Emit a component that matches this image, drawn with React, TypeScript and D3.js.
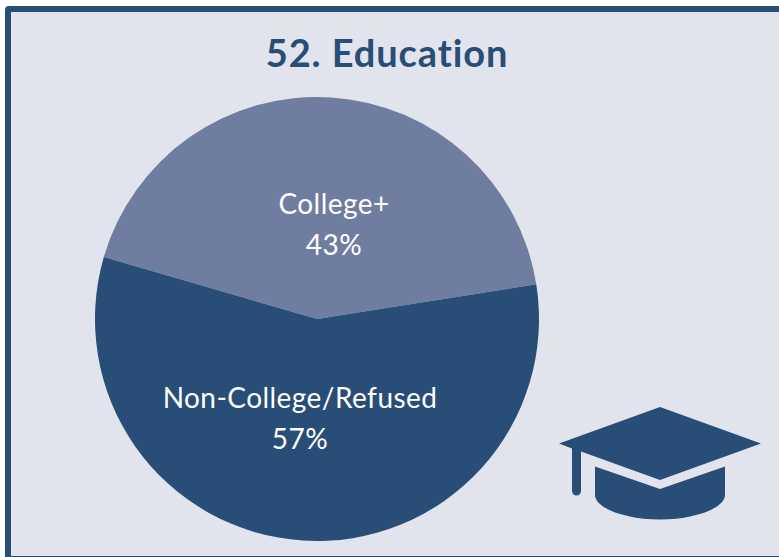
import React, { useEffect, useRef } from "react";
import * as d3 from "d3";

const categories = ["College+", "Non-College/Refused"];
const shares = [43, 57];
const colors = ["#6F7DA0", "#284D77"];
const titleText = "52. Education";

const FONT = "Lato, Carlito, 'Open Sans', sans-serif";

export default function App() {
  const svgRef = useRef<SVGSVGElement>(null);

  useEffect(() => {
    const width = 779;
    const height = 557;
    const cx = 317;
    const cy = 319;
    const radius = 222;
    const navy = "#284D77";

    const svg = d3.select(svgRef.current)
      .attr("width", width)
      .attr("height", height)
      .style("position", "fixed")
      .style("left", 0)
      .style("top", 0)
      .style("display", "block");

    svg.selectAll("*").remove();

    svg.append("rect").attr("width", width).attr("height", height).attr("fill", "#fff");

    // panel with the thick border, runs off the right edge
    svg.append("rect")
      .attr("x", 8)
      .attr("y", 9)
      .attr("width", 790)
      .attr("height", 550)
      .attr("rx", 1)
      .attr("fill", "#E1E4EC")
      .attr("stroke", navy)
      .attr("stroke-width", 6);

    svg.append("text")
      .attr("x", 387)
      .attr("y", 67)
      .attr("text-anchor", "middle")
      .attr("font-family", FONT)
      .attr("font-weight", 700)
      .attr("font-size", 38)
      .attr("letter-spacing", 0.9)
      .attr("fill", navy)
      .text(titleText);

    // first slice starts up and to the left of 12 o'clock
    const pie = d3.pie<number>().sort(null).startAngle((-73.8 * Math.PI) / 180).endAngle((286.2 * Math.PI) / 180);
    const arc = d3.arc<d3.PieArcDatum<number>>().innerRadius(0).outerRadius(radius);
    const arcs = pie(shares);

    const g = svg.append("g").attr("transform", `translate(${cx},${cy})`);
    g.selectAll("path")
      .data(arcs)
      .enter()
      .append("path")
      .attr("d", arc)
      .attr("fill", (_, i) => colors[i]);

    // label positions relative to the pie centre
    const labelPos = [
      { x: 17, y1: -105, y2: -64 },
      { x: -17, y1: 89, y2: 130 },
    ];
    arcs.forEach((_, i) => {
      const p = labelPos[i];
      const t = g.append("text")
        .attr("text-anchor", "middle")
        .attr("font-family", FONT)
        .attr("font-size", 28)
        .attr("letter-spacing", 0.45)
        .attr("fill", "#fff");
      t.append("tspan").attr("x", p.x).attr("y", p.y1).text(categories[i]);
      t.append("tspan").attr("x", p.x).attr("y", p.y2).text(`${shares[i]}%`);
    });

    // graduation cap icon
    const icon = svg.append("g").attr("fill", navy);
    icon.append("path").attr("d", "M660 407 L761 443.5 L660 480 L581 451.5 L581 491 A4.5 4.5 0 0 1 572 491 L572 448.5 L559 443.5 Z");
    icon.append("path").attr("d", "M595 466.5 L660 489 L725 466.5 L725 495 C725 508 695 519.5 660 519.5 C625 519.5 595 508 595 495 Z");
  }, []);

  return <svg ref={svgRef}></svg>;
}
